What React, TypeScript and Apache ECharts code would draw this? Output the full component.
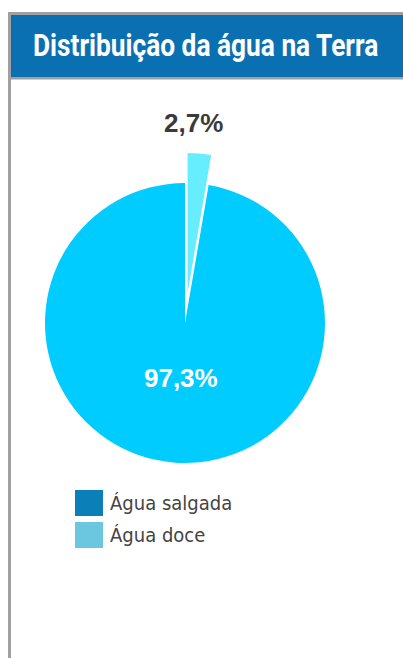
import React, { useEffect, useRef } from "react";
import * as echarts from "echarts";

const titleText = "Distribuição da água na Terra";
const categories = ["Água doce", "Água salgada"];
const values = [2.7, 97.3];
const valueLabels = ["2,7%", "97,3%"];
const sliceColors = ["#66EEFF", "#00CCFF"];
const legendOrder = ["Água salgada", "Água doce"];
const legendColors = ["#0B7FB7", "#6AC7DF"];

const TITLE_FONT = "bold 31px Roboto";
const TITLE_WIDTH = 346;

function measure(text: string, font: string): number {
  const c = document.createElement("canvas").getContext("2d");
  if (!c) return TITLE_WIDTH;
  c.font = font;
  return c.measureText(text).width || TITLE_WIDTH;
}

export default function App() {
  const ref = useRef<HTMLDivElement>(null);
  useEffect(() => {
    if (!ref.current) return;
    const chart = echarts.init(ref.current, undefined, { renderer: "svg" });
    const sx = TITLE_WIDTH / measure(titleText, TITLE_FONT);
    chart.setOption({
      animation: false,
      backgroundColor: "#ffffff",
      graphic: [
        { type: "rect", z: -10, shape: { x: 8, y: 12, width: 395, height: 3 }, style: { fill: "#a0a0a0" } },
        { type: "rect", z: -10, shape: { x: 8, y: 12, width: 3, height: 646 }, style: { fill: "#a0a0a0" } },
        { type: "rect", z: -10, shape: { x: 11, y: 15, width: 392, height: 62 }, style: { fill: "#0B70B1" } },
        { type: "rect", z: -10, shape: { x: 11, y: 77, width: 392, height: 2.5 }, style: { fill: "#a0a0a0" } },
        {
          type: "text",
          z: 10,
          x: 33,
          y: 45,
          scaleX: sx,
          style: {
            text: titleText,
            fill: "#ffffff",
            font: TITLE_FONT,
            textAlign: "left",
            textVerticalAlign: "middle",
          },
        },
      ],
      legend: {
        orient: "vertical",
        left: 75,
        top: 490,
        padding: 0,
        itemWidth: 28,
        itemHeight: 26,
        itemGap: 6,
        icon: "rect",
        selectedMode: false,
        data: legendOrder.map((n, i) => ({ name: n, itemStyle: { color: legendColors[i] } })),
        textStyle: {
          color: "#444444",
          fontSize: 20,
          padding: [5, 0, 0, 2],
          fontFamily: "'DejaVu Sans Condensed', 'Liberation Sans Narrow', sans-serif",
        },
      },
      series: [
        {
          type: "pie",
          center: [185, 323],
          radius: 140,
          startAngle: 90,
          clockwise: true,
          selectedMode: "single",
          selectedOffset: 30,
          avoidLabelOverlap: false,
          labelLine: { show: false },
          emphasis: { disabled: true },
          label: {
            show: true,
            position: "inside",
            fontFamily: "'Liberation Sans', Arial, sans-serif",
            fontWeight: "bold",
            fontSize: 26,
            formatter: (p: any) => valueLabels[p.dataIndex],
          },
          labelLayout: (p: any) => (p.dataIndex === 0 ? { dy: -97 } : { dx: 2, dy: -18 }),
          data: categories.map((c, i) => ({
            name: c,
            value: values[i],
            selected: i === 0,
            itemStyle: { color: sliceColors[i] },
            label: { color: i === 0 ? "#3a3a3a" : "#ffffff" },
          })),
        },
      ],
    });
    return () => chart.dispose();
  }, []);
  return (
    <div
      ref={ref}
      style={{ position: "absolute", left: 0, top: 0, width: 403, height: 658 }}
    />
  );
}
